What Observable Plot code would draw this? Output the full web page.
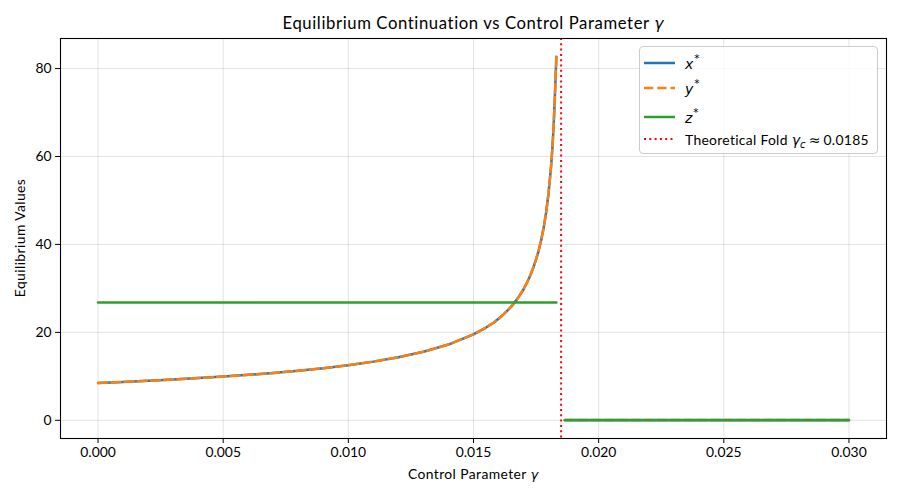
<!DOCTYPE html>
<html>
<head>
<meta charset="utf-8">
<script src="https://cdn.jsdelivr.net/npm/d3@7"></script>
<script src="https://cdn.jsdelivr.net/npm/@observablehq/plot@0.6"></script>
<style>
  html, body { margin: 0; padding: 0; background: white; }
  #wrap { position: relative; width: 900px; height: 500px; font-family: Lato, "Noto Sans", sans-serif; color: #000; }
  #chart { position: absolute; left: 0; top: 0; }
  .ov { position: absolute; line-height: 1; white-space: nowrap; }
  .m { font-family: "DejaVu Sans", sans-serif; font-style: oblique; }
  #title { left: 60px; width: 826px; top: 15px; text-align: center; font-size: 16.7px; letter-spacing: 0.6px; }
  #xlabel { left: 60px; width: 826px; top: 467px; text-align: center; font-size: 13.9px; letter-spacing: 0.4px; }
  #ylabel { left: 20px; top: 238px; font-size: 13.9px; letter-spacing: 0.4px; transform: translate(-50%, -50%) rotate(-90deg); }
  #title .m { font-size: 15.5px; letter-spacing: 0; }
  #xlabel .m { font-size: 13px; letter-spacing: 0; }
  #legend { position: absolute; left: 639px; top: 46px; width: 239px; height: 108px; box-sizing: border-box;
            border: 1px solid #cccccc; border-radius: 4px; background: rgba(255,255,255,0.8); font-size: 13.9px; }
  .row { position: absolute; left: 4px; height: 22px; display: flex; align-items: center; letter-spacing: 0.3px; }
  .row svg { width: 31px; height: 6px; margin-right: 10px; flex: none; }
  .row .m { font-size: 14px; letter-spacing: 0; }
  .sup { font-family: "DejaVu Sans", sans-serif; font-style: normal; font-size: 10.5px; position: relative; top: -7px; margin-left: 1px; }
  .sub { font-family: "DejaVu Sans", sans-serif; font-style: oblique; font-size: 10px; position: relative; top: 3px; }
  .approx { font-family: "DejaVu Sans", sans-serif; font-size: 14px; margin: 0 3px; letter-spacing: 0; }
</style>
</head>
<body>
<div id="wrap">
  <div id="chart"></div>
  <div id="title" class="ov">Equilibrium Continuation vs Control Parameter <span class="m">γ</span></div>
  <div id="xlabel" class="ov">Control Parameter <span class="m">γ</span></div>
  <div id="ylabel" class="ov">Equilibrium Values</div>
  <div id="legend"></div>
</div>
<script>
// ---- data ----
const gammaBranch1 = [0, 0.001, 0.002, 0.003, 0.004, 0.005, 0.006, 0.007, 0.008, 0.009, 0.010,
  0.011, 0.012, 0.013, 0.014, 0.015, 0.0155, 0.0158, 0.016, 0.0162, 0.0165, 0.0168, 0.017, 0.0171,
  0.0172, 0.0173, 0.0174, 0.0175, 0.0176, 0.0177, 0.0178, 0.0179, 0.018, 0.0181, 0.01815, 0.0182,
  0.01825, 0.01828, 0.01831];
const xBranch1 = [8.5, 8.74, 9.0, 9.29, 9.6, 9.95, 10.34, 10.78, 11.28, 11.86, 12.54,
  13.35, 14.34, 15.59, 17.23, 19.54, 21.1, 22.2, 23.1, 24.1, 25.8, 28.0, 29.8, 30.9,
  32.1, 33.4, 34.9, 36.6, 38.5, 40.9, 43.7, 47.2, 51.7, 57.8, 61.8, 66.8,
  73.5, 78.0, 82.7];
const yBranch1 = xBranch1.slice();           // y* coincides with x*
const zBranch1Value = 26.8;                   // z* constant on the first branch

const gammaBranch2 = [0.01865, 0.020, 0.022, 0.024, 0.026, 0.028, 0.030];
const xBranch2 = [0.1, 0.1, 0.1, 0.1, 0.1, 0.1, 0.1];
const yBranch2 = [0.1, 0.1, 0.1, 0.1, 0.1, 0.1, 0.1];
const zBranch2 = [0, 0, 0, 0, 0, 0, 0];

const foldGamma = 0.0185;
const xTicks = [0, 0.005, 0.010, 0.015, 0.020, 0.025, 0.030];
const yTicks = [0, 20, 40, 60, 80];

const seriesNames = ["x", "y", "z"];
const seriesColors = ["#1f77b4", "#ff7f0e", "#2ca02c"];

// ---- build table ----
const rows = [];
gammaBranch1.forEach((g, i) => {
  rows.push({gamma: g, value: xBranch1[i], series: "x*", branch: 1});
  rows.push({gamma: g, value: yBranch1[i], series: "y*", branch: 1});
  rows.push({gamma: g, value: zBranch1Value, series: "z*", branch: 1});
});
gammaBranch2.forEach((g, i) => {
  rows.push({gamma: g, value: xBranch2[i], series: "x*", branch: 2});
  rows.push({gamma: g, value: yBranch2[i], series: "y*", branch: 2});
  rows.push({gamma: g, value: zBranch2[i], series: "z*", branch: 2});
});
const of = s => rows.filter(d => d.series === s);

const xmin = 0, xmax = 0.030, ymin = 0, ymax = d3.max(xBranch1);
const xm = (xmax - xmin) * 0.05, ym = (ymax - ymin) * 0.05;

const grid = {stroke: "#b0b0b0", strokeOpacity: 0.35, strokeWidth: 1};
const foldDash = "2,3.3";

const chart = Plot.plot({
  width: 900,
  height: 500,
  marginLeft: 60,
  marginRight: 14,
  marginTop: 38,
  marginBottom: 62,
  style: {fontFamily: "Lato, 'Noto Sans', sans-serif", fontSize: "13.9px", color: "#000", background: "white"},
  x: {domain: [xmin - xm, xmax + xm], label: null},
  y: {domain: [ymin - ym, ymax + ym], label: null},
  marks: [
    Plot.gridX(xTicks, grid),
    Plot.gridY(yTicks, grid),
    Plot.line(of("x*"), {x: "gamma", y: "value", z: "branch", stroke: seriesColors[0], strokeWidth: 2.5}),
    Plot.line(of("y*"), {x: "gamma", y: "value", z: "branch", stroke: seriesColors[1], strokeWidth: 2.5, strokeDasharray: "9.25,4"}),
    Plot.line(of("z*"), {x: "gamma", y: "value", z: "branch", stroke: seriesColors[2], strokeWidth: 2.5}),
    Plot.ruleX([foldGamma], {stroke: "red", strokeWidth: 2, strokeDasharray: foldDash}),
    Plot.frame({stroke: "#000", strokeWidth: 1.1}),
    Plot.axisX(xTicks, {tickFormat: d3.format(".3f"), tickSize: 5, tickPadding: 4, fontSize: 13.9, label: null}),
    Plot.axisY(yTicks, {tickSize: 5, tickPadding: 4, fontSize: 13.9, label: null})
  ]
});
document.getElementById("chart").appendChild(chart);

// ---- legend ----
const legend = document.getElementById("legend");
const entries = [
  {html: `<span class="m">${seriesNames[0]}</span><span class="sup">*</span>`, color: seriesColors[0], dash: null, w: 2.5, top: 5},
  {html: `<span class="m">${seriesNames[1]}</span><span class="sup">*</span>`, color: seriesColors[1], dash: "9.25,4", w: 2.5, top: 30},
  {html: `<span class="m">${seriesNames[2]}</span><span class="sup">*</span>`, color: seriesColors[2], dash: null, w: 2.5, top: 59},
  {html: `Theoretical Fold <span class="m">γ</span><span class="sub">c</span><span class="approx">≈</span>0.0185`, color: "red", dash: foldDash, w: 2, top: 81}
];
entries.forEach(e => {
  const r = document.createElement("div");
  r.className = "row";
  r.style.top = e.top + "px";
  r.innerHTML = `<svg viewBox="0 0 31 6"><line x1="0" x2="31" y1="3" y2="3" stroke="${e.color}" stroke-width="${e.w}" ${e.dash ? `stroke-dasharray="${e.dash}"` : ""}/></svg><span>${e.html}</span>`;
  legend.appendChild(r);
});
</script>
</body>
</html>
